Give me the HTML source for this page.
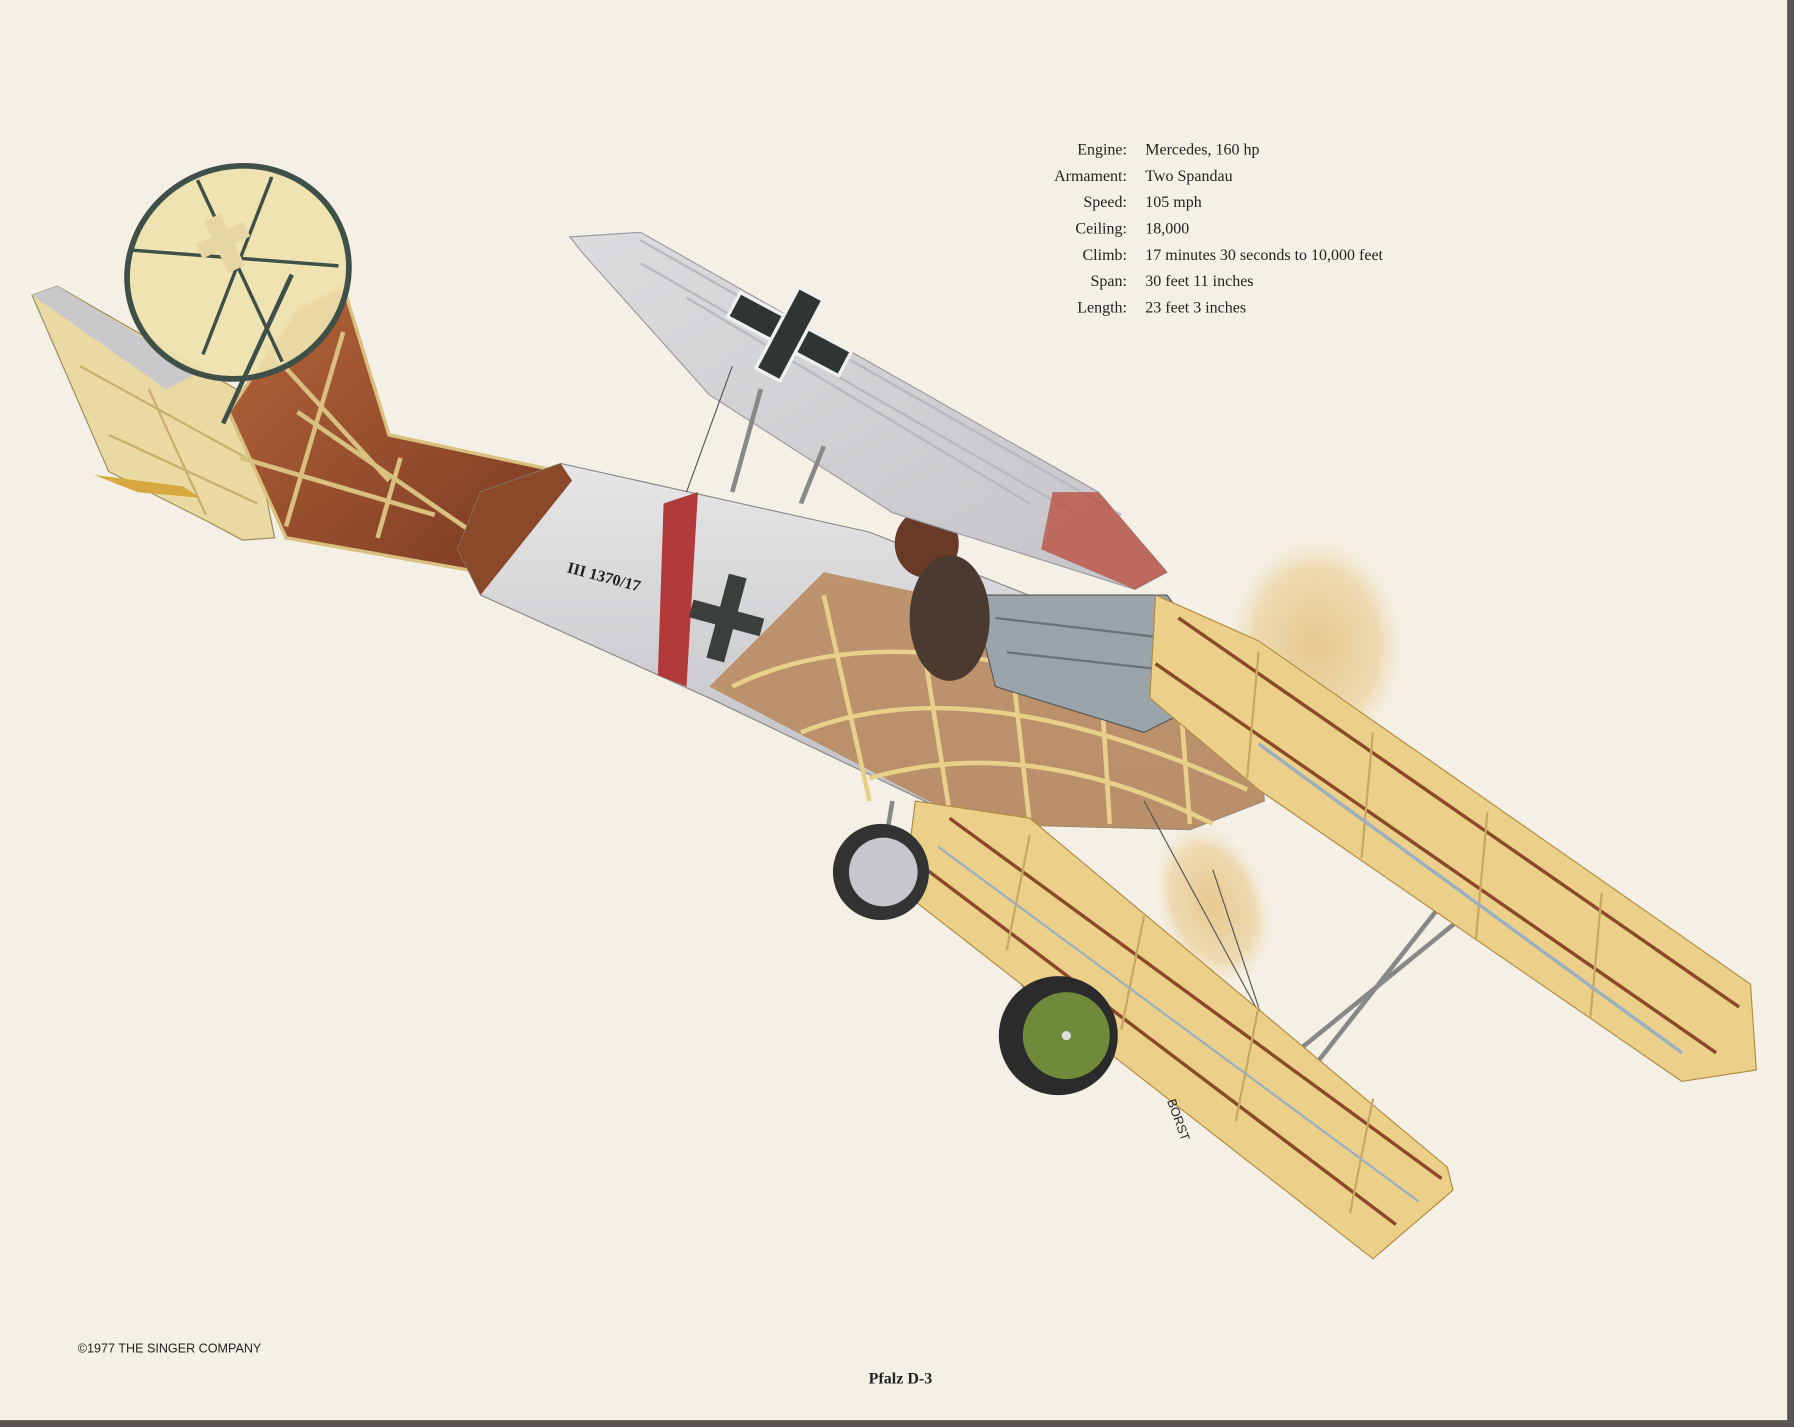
<!DOCTYPE html>
<html><head><meta charset="utf-8"><style>
html,body{margin:0;padding:0;background:#f4f0e6;}
svg{display:block}
</style></head><body>
<svg width="1794" height="1427" viewBox="0 0 1568 1247" preserveAspectRatio="none" xmlns="http://www.w3.org/2000/svg">
<defs>
<radialGradient id="prop" cx="50%" cy="50%" r="50%">
<stop offset="0" stop-color="#e6c88e"/><stop offset="0.7" stop-color="#eedbb3"/><stop offset="1" stop-color="#f4f0e6" stop-opacity="0.2"/></radialGradient>
<linearGradient id="grey" x1="0" y1="0" x2="0" y2="1"><stop offset="0" stop-color="#e6e6e8"/><stop offset="1" stop-color="#bdbdc2"/></linearGradient>
<linearGradient id="wgrey" x1="0" y1="0" x2="1" y2="1"><stop offset="0" stop-color="#dcdcdf"/><stop offset="1" stop-color="#c4c4c8"/></linearGradient>
<linearGradient id="wood" x1="0" y1="0" x2="1" y2="1"><stop offset="0" stop-color="#b5653a"/><stop offset="1" stop-color="#7a3a22"/></linearGradient>
</defs>
<rect width="1568" height="1247" fill="#f4f0e6"/>
<rect x="1562" y="0" width="6" height="1247" fill="#5a5550"/>
<rect x="0" y="1241" width="1568" height="6" fill="#5a5550"/>

<!-- propeller disc -->
<ellipse cx="1150" cy="565" rx="80" ry="100" fill="url(#prop)"/>
<ellipse cx="1060" cy="790" rx="50" ry="75" fill="url(#prop)" transform="rotate(-20 1060 790)"/>

<!-- horizontal stabilizer -->
<polygon points="28,258 50,250 215,345 240,470 212,472 180,455 95,412" fill="#ead9a2" stroke="#9a8a5a"/>
<polygon points="28,258 50,250 175,325 145,340" fill="#c9c9cc"/>
<g stroke="#c8b070" stroke-width="2"><line x1="70" y1="320" x2="215" y2="400"/><line x1="95" y1="380" x2="225" y2="440"/><line x1="130" y1="340" x2="180" y2="450"/></g>
<path d="M82,415 L160,425 L175,435 L120,430 Z" fill="#d8a840"/>
<!-- fin wood -->
<polygon points="200,360 260,270 300,250 340,380 480,410 420,500 250,470" fill="url(#wood)" stroke="#d9c080" stroke-width="3"/>
<g stroke="#d9c080" stroke-width="4" fill="none">
<line x1="230" y1="300" x2="340" y2="420"/><line x1="260" y1="360" x2="420" y2="470"/><line x1="210" y1="400" x2="380" y2="450"/>
<line x1="300" y1="290" x2="250" y2="460"/><line x1="350" y1="400" x2="330" y2="470"/>
</g>
<!-- rudder oval -->
<g transform="rotate(-25 208 238)">
<ellipse cx="208" cy="238" rx="98" ry="92" fill="#efe2ae" fill-opacity="0.92" stroke="#3f5048" stroke-width="5"/>
<g stroke="#3f5048" stroke-width="3"><line x1="130" y1="180" x2="290" y2="270"/><line x1="150" y1="290" x2="270" y2="175"/><line x1="210" y1="150" x2="210" y2="325"/></g>
<rect x="185" y="200" width="46" height="14" fill="#e5d6a4"/><rect x="200" y="185" width="16" height="50" fill="#e5d6a4"/>
</g>
<line x1="195" y1="370" x2="255" y2="240" stroke="#3f5048" stroke-width="4"/>

<!-- fuselage -->
<polygon points="400,480 420,430 490,405 760,465 1000,560 1100,640 1105,700 1040,725 850,720 620,610 420,520" fill="url(#grey)" stroke="#888" stroke-width="1"/>
<polygon points="400,480 420,430 490,405 500,420 420,520" fill="#8a4a2a"/>
<polygon points="580,440 610,430 600,600 575,590" fill="#b23a3a"/>
<g transform="translate(635,540) rotate(15)">
<rect x="-32" y="-8" width="64" height="16" fill="#3a3f3c"/><rect x="-8" y="-38" width="16" height="76" fill="#3a3f3c"/></g>
<text x="495" y="500" font-family="Liberation Serif" font-weight="bold" font-size="14" fill="#222" transform="rotate(15 495 500)">III 1370/17</text>
<polygon points="620,600 720,500 1000,560 1100,640 1105,700 1040,725 850,720" fill="#b9875a" opacity="0.85"/>
<g stroke="#e8cf8a" stroke-width="4" fill="none">
<path d="M640,600 Q800,520 1090,650"/><path d="M700,640 Q850,580 1090,690"/><path d="M760,680 Q900,640 1060,720"/>
<path d="M720,520 L760,700"/><path d="M800,520 L830,710"/><path d="M880,540 L900,720"/><path d="M960,560 L970,720"/><path d="M1030,590 L1040,720"/>
</g>
<polygon points="850,520 1020,520 1080,600 1000,640 870,600" fill="#9aa4aa" stroke="#555"/>
<g stroke="#6a7378" stroke-width="2"><line x1="870" y1="540" x2="1040" y2="560"/><line x1="880" y1="570" x2="1060" y2="590"/></g>
<ellipse cx="810" cy="475" rx="28" ry="30" fill="#6a3a28"/>
<ellipse cx="830" cy="540" rx="35" ry="55" fill="#4a3a30"/>

<!-- upper wing -->
<polygon points="498,207 560,203 960,430 1020,500 992,515 780,448 620,345 510,222" fill="url(#wgrey)" stroke="#9a9aa0"/>
<g stroke="#b8b8bd" stroke-width="2"><line x1="560" y1="230" x2="960" y2="460"/><line x1="600" y1="260" x2="900" y2="440"/><line x1="560" y1="210" x2="980" y2="450"/></g>
<polygon points="920,430 960,430 1020,500 992,515 910,480" fill="#b94a3a" opacity="0.75"/>
<g transform="translate(690,292) rotate(28)"><rect x="-55" y="-12" width="110" height="24" fill="#2f3532" stroke="#f0f0f0" stroke-width="3"/><rect x="-12" y="-40" width="24" height="80" fill="#2f3532" stroke="#f0f0f0" stroke-width="3"/></g>

<!-- struts & wires -->
<g stroke="#888" stroke-width="4"><line x1="640" y1="430" x2="665" y2="340"/><line x1="700" y1="440" x2="720" y2="390"/>
<line x1="1120" y1="930" x2="1280" y2="800"/><line x1="1150" y1="930" x2="1260" y2="790"/>
<line x1="780" y1="700" x2="770" y2="760"/><line x1="830" y1="760" x2="920" y2="900"/></g>
<g stroke="#555" stroke-width="1"><line x1="600" y1="430" x2="640" y2="320"/><line x1="1000" y1="700" x2="1130" y2="940"/><line x1="1060" y1="760" x2="1120" y2="940"/></g>

<!-- lower wings -->
<polygon points="1010,520 1100,560 1530,860 1535,935 1470,945 1100,690 1005,610" fill="#ecd08a" stroke="#b08a40"/>
<g stroke="#8a4a2a" stroke-width="3">
<line x1="1030" y1="540" x2="1520" y2="880"/><line x1="1010" y1="580" x2="1500" y2="920"/></g>
<g stroke="#c9a860" stroke-width="2">
<line x1="1100" y1="570" x2="1090" y2="680"/><line x1="1200" y1="640" x2="1190" y2="750"/><line x1="1300" y1="710" x2="1290" y2="820"/><line x1="1400" y1="780" x2="1390" y2="890"/></g>
<g stroke="#9ab0c0" stroke-width="3"><line x1="1100" y1="650" x2="1470" y2="920"/></g>
<polygon points="800,700 900,715 1265,1020 1270,1040 1200,1100 790,780" fill="#ecd08a" stroke="#b08a40"/>
<g stroke="#8a4a2a" stroke-width="3"><line x1="830" y1="715" x2="1260" y2="1030"/><line x1="810" y1="760" x2="1220" y2="1070"/></g>
<g stroke="#c9a860" stroke-width="2"><line x1="900" y1="730" x2="880" y2="830"/><line x1="1000" y1="800" x2="980" y2="900"/><line x1="1100" y1="880" x2="1080" y2="980"/><line x1="1200" y1="960" x2="1180" y2="1060"/></g>
<g stroke="#9ab0c0" stroke-width="2"><line x1="820" y1="740" x2="1240" y2="1050"/></g>

<!-- wheels -->
<circle cx="770" cy="762" r="42" fill="#333"/><circle cx="772" cy="762" r="30" fill="#c8c8cc"/>
<circle cx="925" cy="905" r="52" fill="#2b2b2b"/><circle cx="932" cy="905" r="38" fill="#6f8a3a"/><circle cx="932" cy="905" r="4" fill="#ddd"/>

<text x="1020" y="962" font-family="Liberation Sans" font-size="11" fill="#222" transform="rotate(70 1020 962)">BORST</text>

<g font-family="Liberation Serif" font-size="14" fill="#222">
<g text-anchor="end">
<text x="985" y="135">Engine:</text><text x="985" y="158">Armament:</text><text x="985" y="181">Speed:</text>
<text x="985" y="204">Ceiling:</text><text x="985" y="227">Climb:</text><text x="985" y="250">Span:</text><text x="985" y="273">Length:</text></g>
<text x="1001" y="135">Mercedes, 160 hp</text><text x="1001" y="158">Two Spandau</text><text x="1001" y="181">105 mph</text>
<text x="1001" y="204">18,000</text><text x="1001" y="227">17 minutes 30 seconds to 10,000 feet</text><text x="1001" y="250">30 feet 11 inches</text><text x="1001" y="273">23 feet 3 inches</text>
</g>
<text x="68" y="1182" font-family="Liberation Sans" font-size="11" fill="#222">©1977 THE SINGER COMPANY</text>
<text x="787" y="1209" font-family="Liberation Serif" font-weight="bold" font-size="14" fill="#222" text-anchor="middle">Pfalz D-3</text>
</svg>
</body></html>
